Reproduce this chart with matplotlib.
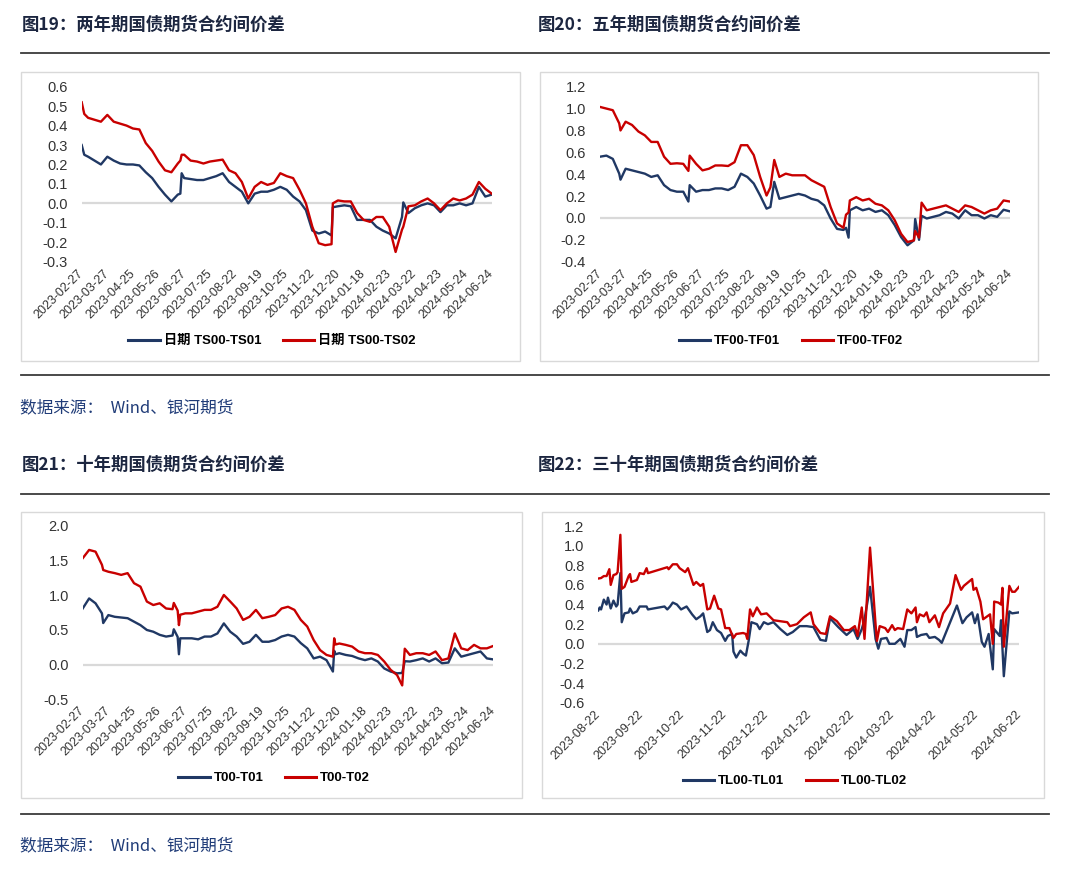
import matplotlib.pyplot as plt
import matplotlib.dates as mdates
from matplotlib.lines import Line2D
from matplotlib.patches import Rectangle
import pandas as pd

plt.rcParams['font.family'] = ['Liberation Sans', 'Noto Sans CJK SC']
plt.rcParams['axes.unicode_minus'] = False

NAVY = '#203864'
RED = '#c80000'
GRID = '#d9d9d9'
TEXT = '#333333'

# trading-day axis labels shared by the 2y / 5y / 10y charts (one label per 20 trading days)
day_labels = ['2023-02-27', '2023-03-27', '2023-04-25', '2023-05-26', '2023-06-27',
              '2023-07-25', '2023-08-22', '2023-09-19', '2023-10-25', '2023-11-22',
              '2023-12-20', '2024-01-18', '2024-02-23', '2024-03-22', '2024-04-23',
              '2024-05-24', '2024-06-24']

# ---- fig 19: 2y ----
ts_idx = [0, 2, 5, 10, 15, 20, 25, 30, 35, 40, 45, 50, 55, 60, 65, 70, 75, 77, 78, 80,
          85, 90, 95, 100, 105, 110, 115, 120, 125, 130, 135, 140, 145, 150, 155, 160,
          165, 170, 175, 180, 185, 190, 195, 196, 200, 205, 210, 215, 220, 225, 230, 235,
          240, 245, 250, 251, 255, 260, 265, 270, 275, 280, 285, 290, 295, 300, 305, 310,
          315, 320]
ts01 = [0.30, 0.25, 0.24, 0.22, 0.20, 0.24, 0.22, 0.205, 0.20, 0.20, 0.195, 0.16, 0.13,
        0.085, 0.045, 0.01, 0.045, 0.05, 0.155, 0.13, 0.125, 0.12, 0.12, 0.13, 0.14, 0.155,
        0.11, 0.085, 0.06, 0.0, 0.05, 0.06, 0.06, 0.07, 0.085, 0.07, 0.035, 0.01, -0.035,
        -0.14, -0.155, -0.145, -0.165, -0.02, -0.015, -0.01, -0.015, -0.085, -0.085, -0.085,
        -0.12, -0.14, -0.155, -0.18, -0.07, 0.005, -0.05, -0.025, -0.01, 0.0, -0.01, -0.045,
        -0.01, -0.01, 0.0, -0.01, 0.0, 0.085, 0.035, 0.045]
ts02 = [0.52, 0.46, 0.44, 0.43, 0.42, 0.455, 0.42, 0.41, 0.40, 0.385, 0.38, 0.31, 0.27,
        0.215, 0.17, 0.16, 0.205, 0.22, 0.25, 0.25, 0.22, 0.215, 0.205, 0.215, 0.22, 0.225,
        0.17, 0.155, 0.11, 0.025, 0.085, 0.11, 0.095, 0.105, 0.155, 0.14, 0.13, 0.07, 0.0,
        -0.12, -0.205, -0.215, -0.21, 0.0, 0.015, 0.01, 0.01, -0.05, -0.085, -0.095, -0.07,
        -0.07, -0.12, -0.25, -0.135, -0.12, -0.015, -0.01, 0.01, 0.025, 0.0, -0.035, 0.0,
        0.025, 0.015, 0.025, 0.045, 0.11, 0.075, 0.05]

# ---- fig 20: 5y ----
tf_idx = [0, 5, 10, 15, 16, 20, 25, 30, 35, 40, 45, 50, 55, 60, 65, 69, 70, 75, 80, 85,
          90, 95, 100, 105, 110, 115, 120, 125, 130, 133, 136, 140, 145, 150, 155, 160,
          165, 170, 175, 180, 185, 190, 192, 194, 195, 200, 205, 210, 215, 220, 225, 230,
          235, 240, 245, 246, 249, 251, 255, 260, 265, 270, 275, 280, 285, 290, 295, 300,
          305, 310, 315, 320]
tf01 = [0.56, 0.57, 0.54, 0.405, 0.35, 0.45, 0.435, 0.42, 0.405, 0.375, 0.39, 0.30, 0.255,
        0.24, 0.24, 0.15, 0.30, 0.24, 0.255, 0.255, 0.27, 0.27, 0.255, 0.285, 0.405, 0.375,
        0.315, 0.205, 0.085, 0.10, 0.33, 0.175, 0.19, 0.205, 0.22, 0.205, 0.175, 0.16, 0.115,
        -0.005, -0.10, -0.11, -0.09, -0.18, 0.07, 0.10, 0.07, 0.085, 0.055, 0.07, 0.025,
        -0.065, -0.175, -0.25, -0.205, -0.01, -0.2, 0.02, -0.005, 0.01, 0.025, 0.055, 0.04,
        -0.005, 0.07, 0.025, 0.025, -0.005, 0.025, 0.01, 0.075, 0.06]
tf02 = [1.015, 1.0, 0.985, 0.865, 0.80, 0.88, 0.85, 0.79, 0.755, 0.695, 0.695, 0.56, 0.495,
        0.50, 0.495, 0.43, 0.57, 0.495, 0.435, 0.45, 0.48, 0.48, 0.475, 0.51, 0.665, 0.665,
        0.575, 0.375, 0.205, 0.28, 0.53, 0.375, 0.405, 0.39, 0.39, 0.39, 0.345, 0.315, 0.285,
        0.10, -0.05, -0.09, 0.03, 0.05, 0.16, 0.19, 0.16, 0.175, 0.13, 0.115, 0.07, -0.02,
        -0.145, -0.22, -0.205, -0.12, -0.18, 0.14, 0.07, 0.085, 0.10, 0.115, 0.085, 0.055,
        0.115, 0.10, 0.07, 0.04, 0.07, 0.085, 0.16, 0.15]

# ---- fig 21: 10y ----
t_idx = [0, 5, 10, 15, 16, 20, 25, 30, 35, 40, 45, 50, 55, 60, 65, 70, 71, 74, 75, 76,
         80, 85, 90, 95, 100, 105, 110, 115, 120, 125, 130, 135, 140, 145, 150, 155, 160,
         165, 170, 175, 180, 185, 190, 195, 196, 197, 200, 205, 210, 215, 220, 225, 230,
         235, 240, 245, 249, 251, 255, 260, 265, 270, 275, 280, 285, 290, 295, 300, 305,
         310, 315, 320]
t01 = [0.81, 0.955, 0.885, 0.74, 0.60, 0.715, 0.69, 0.68, 0.67, 0.62, 0.57, 0.50, 0.475,
       0.43, 0.405, 0.42, 0.51, 0.40, 0.15, 0.38, 0.38, 0.38, 0.365, 0.405, 0.405, 0.45,
       0.595, 0.475, 0.405, 0.30, 0.33, 0.43, 0.33, 0.33, 0.355, 0.405, 0.43, 0.405, 0.31,
       0.235, 0.09, 0.115, 0.065, -0.10, 0.20, 0.15, 0.165, 0.14, 0.125, 0.09, 0.065, 0.09,
       0.045, -0.055, -0.10, -0.125, -0.12, 0.05, 0.045, 0.065, 0.09, 0.045, 0.09, 0.02,
       0.03, 0.235, 0.115, 0.14, 0.165, 0.19, 0.09, 0.075]
t02 = [1.535, 1.655, 1.63, 1.44, 1.365, 1.34, 1.32, 1.295, 1.32, 1.175, 1.125, 0.91, 0.86,
       0.885, 0.81, 0.80, 0.89, 0.78, 0.57, 0.72, 0.74, 0.74, 0.765, 0.79, 0.79, 0.835,
       1.005, 0.91, 0.81, 0.645, 0.69, 0.79, 0.67, 0.69, 0.715, 0.81, 0.835, 0.79, 0.645,
       0.55, 0.355, 0.21, 0.14, 0.115, 0.38, 0.29, 0.305, 0.285, 0.26, 0.19, 0.165, 0.165,
       0.14, 0.045, -0.075, -0.15, -0.30, 0.23, 0.14, 0.165, 0.165, 0.14, 0.19, 0.065, 0.09,
       0.45, 0.235, 0.21, 0.285, 0.235, 0.235, 0.27]

# ---- fig 22: 30y (calendar dates, gaps bridged by straight segments) ----
tl01_dates = ['2023-08-22', '2023-08-23', '2023-08-24', '2023-08-26', '2023-08-28',
              '2023-08-29', '2023-08-31', '2023-09-02', '2023-09-04', '2023-09-05',
              '2023-09-07', '2023-09-08', '2023-09-10', '2023-09-13', '2023-09-14',
              '2023-09-16', '2023-09-19', '2023-09-21', '2023-09-24', '2023-09-26',
              '2023-09-27', '2023-10-09', '2023-10-11', '2023-10-13', '2023-10-15',
              '2023-10-18', '2023-10-21', '2023-10-25', '2023-10-29', '2023-11-01',
              '2023-11-04', '2023-11-06', '2023-11-09', '2023-11-11', '2023-11-13',
              '2023-11-16', '2023-11-19', '2023-11-22', '2023-11-24', '2023-11-27',
              '2023-11-28', '2023-11-30', '2023-12-03', '2023-12-05', '2023-12-07',
              '2023-12-09', '2023-12-11', '2023-12-15', '2023-12-17', '2023-12-20',
              '2023-12-23', '2023-12-27', '2024-01-01', '2024-01-06', '2024-01-10',
              '2024-01-15', '2024-01-20', '2024-01-25', '2024-01-30', '2024-02-03',
              '2024-02-06', '2024-02-12', '2024-02-18', '2024-02-23', '2024-02-26',
              '2024-02-29', '2024-03-02', '2024-03-06', '2024-03-10', '2024-03-12',
              '2024-03-14', '2024-03-18', '2024-03-20', '2024-03-24', '2024-03-28',
              '2024-03-31', '2024-04-02', '2024-04-05', '2024-04-08', '2024-04-09',
              '2024-04-12', '2024-04-16', '2024-04-18', '2024-04-22', '2024-04-25',
              '2024-04-27', '2024-05-08', '2024-05-12', '2024-05-15', '2024-05-19',
              '2024-05-21', '2024-05-23', '2024-05-26', '2024-05-28', '2024-05-31',
              '2024-06-03', '2024-06-04', '2024-06-08', '2024-06-09', '2024-06-11',
              '2024-06-15', '2024-06-17', '2024-06-22']
tl01 = [0.34, 0.37, 0.35, 0.45, 0.40, 0.47, 0.36, 0.44, 0.38, 0.40, 0.72, 0.22, 0.31,
        0.32, 0.36, 0.31, 0.33, 0.38, 0.38, 0.38, 0.35, 0.38, 0.35, 0.38, 0.42, 0.40, 0.35,
        0.38, 0.30, 0.25, 0.28, 0.31, 0.12, 0.14, 0.22, 0.14, 0.11, 0.03, 0.08, 0.10, -0.08,
        -0.14, -0.07, -0.10, -0.12, 0.03, 0.22, 0.20, 0.15, 0.22, 0.20, 0.22, 0.15, 0.09,
        0.12, 0.18, 0.18, 0.17, 0.04, 0.03, 0.26, 0.17, 0.09, 0.15, 0.05, 0.15, 0.25, 0.58,
        0.05, -0.05, 0.05, 0.06, 0.00, 0.00, 0.05, -0.03, 0.14, 0.14, 0.17, 0.07, 0.09, 0.10,
        0.06, 0.07, 0.04, 0.01, 0.39, 0.21, 0.27, 0.32, 0.21, 0.30, 0.02, -0.03, 0.10, -0.26,
        0.15, 0.08, 0.24, -0.33, 0.33, 0.31, 0.32]
tl02_dates = ['2023-08-22', '2023-08-24', '2023-08-26', '2023-08-28', '2023-08-30',
              '2023-08-31', '2023-09-02', '2023-09-04', '2023-09-05', '2023-09-07',
              '2023-09-08', '2023-09-10', '2023-09-13', '2023-09-14', '2023-09-15',
              '2023-09-19', '2023-09-21', '2023-09-24', '2023-09-26', '2023-09-27',
              '2023-10-11', '2023-10-12', '2023-10-15', '2023-10-18', '2023-10-20',
              '2023-10-24', '2023-10-26', '2023-10-30', '2023-11-01', '2023-11-04',
              '2023-11-06', '2023-11-09', '2023-11-11', '2023-11-14', '2023-11-17',
              '2023-11-19', '2023-11-22', '2023-11-25', '2023-11-28', '2023-11-30',
              '2023-12-05', '2023-12-07', '2023-12-08', '2023-12-10', '2023-12-12',
              '2023-12-15', '2023-12-18', '2023-12-22', '2023-12-27', '2024-01-01',
              '2024-01-06', '2024-01-08', '2024-01-13', '2024-01-18', '2024-01-23',
              '2024-01-25', '2024-01-30', '2024-02-03', '2024-02-06', '2024-02-11',
              '2024-02-16', '2024-02-20', '2024-02-24', '2024-02-26', '2024-02-29',
              '2024-03-02', '2024-03-06', '2024-03-10', '2024-03-11', '2024-03-13',
              '2024-03-17', '2024-03-19', '2024-03-22', '2024-03-24', '2024-03-26',
              '2024-03-30', '2024-04-02', '2024-04-05', '2024-04-08', '2024-04-09',
              '2024-04-11', '2024-04-14', '2024-04-16', '2024-04-18', '2024-04-22',
              '2024-04-25', '2024-04-28', '2024-05-03', '2024-05-07', '2024-05-11',
              '2024-05-13', '2024-05-19', '2024-05-20', '2024-05-22', '2024-05-25',
              '2024-05-27', '2024-05-30', '2024-06-01', '2024-06-03', '2024-06-04',
              '2024-06-07', '2024-06-09', '2024-06-10', '2024-06-11', '2024-06-13',
              '2024-06-15', '2024-06-17', '2024-06-19', '2024-06-22']
tl02 = [0.665, 0.67, 0.69, 0.69, 0.76, 0.60, 0.70, 0.71, 0.73, 1.11, 0.56, 0.58, 0.69,
        0.71, 0.63, 0.65, 0.72, 0.71, 0.77, 0.72, 0.78, 0.76, 0.81, 0.81, 0.77, 0.73, 0.77,
        0.60, 0.63, 0.59, 0.61, 0.35, 0.36, 0.49, 0.36, 0.35, 0.16, 0.16, 0.06, 0.10, 0.11,
        0.10, 0.05, 0.35, 0.28, 0.37, 0.30, 0.31, 0.24, 0.23, 0.22, 0.18, 0.20, 0.27, 0.32,
        0.20, 0.11, 0.10, 0.28, 0.23, 0.14, 0.14, 0.18, 0.08, 0.37, 0.05, 0.98, 0.20, 0.03,
        0.18, 0.16, 0.12, 0.19, 0.14, 0.16, 0.15, 0.35, 0.31, 0.37, 0.22, 0.30, 0.28, 0.32,
        0.22, 0.29, 0.17, 0.31, 0.41, 0.70, 0.55, 0.59, 0.66, 0.55, 0.57, 0.43, 0.25, 0.28,
        0.30, 0.00, 0.43, 0.42, 0.40, 0.57, -0.03, 0.28, 0.59, 0.53, 0.53, 0.58]
tl_ticks = ['2023-08-22', '2023-09-22', '2023-10-22', '2023-11-22', '2023-12-22',
            '2024-01-22', '2024-02-22', '2024-03-22', '2024-04-22', '2024-05-22',
            '2024-06-22']

W, H = 1080, 875
fig = plt.figure(figsize=(W / 100, H / 100), dpi=100)


def fx(px):
    return px / W


def fy(py):
    return 1 - py / H


def style_axes(ax, ylim, yticks):
    for s in ax.spines.values():
        s.set_visible(False)
    ax.set_ylim(*ylim)
    ax.set_yticks(yticks)
    ax.set_yticklabels([f'{v:.1f}' for v in yticks])
    ax.axhline(0, color=GRID, lw=1.6, zorder=1)
    ax.tick_params(axis='y', length=0, pad=10, labelsize=10.5, labelcolor=TEXT)
    ax.tick_params(axis='x', length=0, pad=7, labelsize=9, labelcolor=TEXT)
    for lab in ax.get_xticklabels():
        lab.set_rotation(45)
        lab.set_ha('right')
        lab.set_va('center')
        lab.set_rotation_mode('anchor')


def add_legend(ax, names, cx, cy):
    handles = [Line2D([], [], color=NAVY, lw=2.2), Line2D([], [], color=RED, lw=2.2)]
    ax.legend(handles, names, loc='center', bbox_to_anchor=(fx(cx), fy(cy)),
              bbox_transform=fig.transFigure, ncol=2, frameon=False,
              handlelength=2.4, handletextpad=0.3, columnspacing=1.6,
              prop={'size': 9.5, 'weight': 'bold'})


def day_panel(rect, idx, s1, s2, ylim, yticks, names, leg_xy):
    ax = fig.add_axes(rect)
    ax.plot(idx, s1, color=NAVY, lw=1.7, zorder=3)
    ax.plot(idx, s2, color=RED, lw=1.7, zorder=4)
    ax.set_xlim(0, 320)
    ax.set_xticks(range(0, 321, 20))
    ax.set_xticklabels(day_labels)
    style_axes(ax, ylim, yticks)
    add_legend(ax, names, *leg_xy)
    return ax


# frames, rules, titles, sources
for x0, x1, y0, y1 in [(21, 520, 72, 361), (540, 1038, 72, 361),
                       (21, 522, 512, 798), (542, 1044, 512, 798)]:
    fig.patches.append(Rectangle((fx(x0), fy(y1)), fx(x1) - fx(x0), fy(y0) - fy(y1),
                                 transform=fig.transFigure, fill=False,
                                 edgecolor='#d9d9d9', lw=1.0))
for y in [53, 375, 494, 814]:
    fig.add_artist(Line2D([fx(21), fx(1049)], [fy(y), fy(y)], color='#3a3a3a', lw=1.3))

title_font = ['Noto Sans CJK SC', 'DejaVu Sans']
titles = [(22, 25, '图19：两年期国债期货合约间价差'),
          (538, 25, '图20：五年期国债期货合约间价差'),
          (22, 465, '图21：十年期国债期货合约间价差'),
          (538, 465, '图22：三十年期国债期货合约间价差')]
for x, y, s in titles:
    fig.text(fx(x), fy(y), s, family=title_font, fontsize=12.5, fontweight='bold',
             color='#1c2640', ha='left', va='center')
for y in [408, 846]:
    fig.text(fx(20), fy(y), '数据来源：  Wind、银河期货', family=title_font, fontsize=12,
             color='#203c78', ha='left', va='center')

# panels
day_panel([fx(81.7), fy(261.7), fx(410), 175 / H], ts_idx, ts01, ts02,
          (-0.3, 0.6), [-0.3, -0.2, -0.1, 0.0, 0.1, 0.2, 0.3, 0.4, 0.5, 0.6],
          ['日期 TS00-TS01', '日期 TS00-TS02'], (272, 341))
day_panel([fx(600), fy(261.7), fx(410), 175 / H], tf_idx, tf01, tf02,
          (-0.4, 1.2), [-0.4, -0.2, 0.0, 0.2, 0.4, 0.6, 0.8, 1.0, 1.2],
          ['TF00-TF01', 'TF00-TF02'], (791, 341))
day_panel([fx(82.7), fy(699.3), fx(410.6), 173.3 / H], t_idx, t01, t02,
          (-0.5, 2.0), [-0.5, 0.0, 0.5, 1.0, 1.5, 2.0],
          ['T00-T01', 'T00-T02'], (274, 778))

ax4 = fig.add_axes([fx(598.3), fy(702.7), fx(420.7), 176.7 / H])
ax4.plot(pd.to_datetime(tl01_dates), tl01, color=NAVY, lw=1.7, zorder=3)
ax4.plot(pd.to_datetime(tl02_dates), tl02, color=RED, lw=1.7, zorder=4)
ax4.set_xlim(pd.Timestamp(tl_ticks[0]), pd.Timestamp(tl_ticks[-1]))
ax4.set_xticks(pd.to_datetime(tl_ticks))
ax4.xaxis.set_major_formatter(mdates.DateFormatter('%Y-%m-%d'))
style_axes(ax4, (-0.6, 1.2), [-0.6, -0.4, -0.2, 0.0, 0.2, 0.4, 0.6, 0.8, 1.0, 1.2])
add_legend(ax4, ['TL00-TL01', 'TL00-TL02'], 795, 781)

fig.savefig('out.png', dpi=100, facecolor='white')
